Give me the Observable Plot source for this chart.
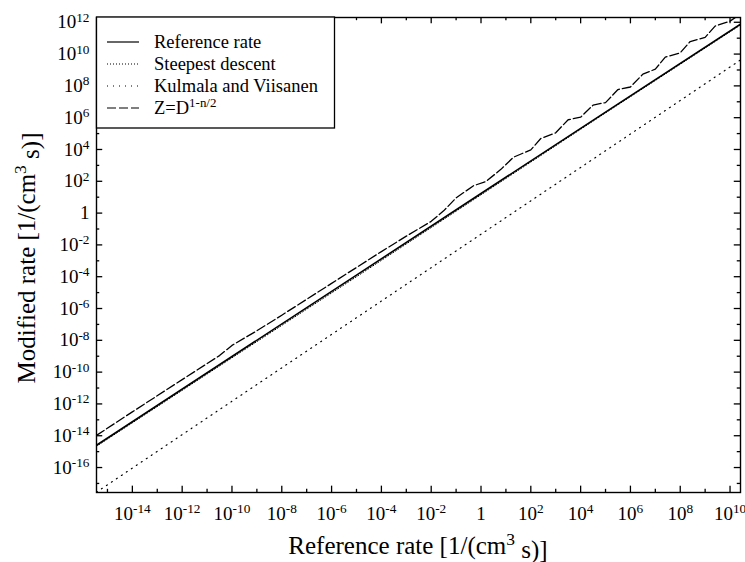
<!DOCTYPE html>
<html><head><meta charset="utf-8">
<script src="https://cdn.jsdelivr.net/npm/d3@7"></script>
<script src="https://cdn.jsdelivr.net/npm/@observablehq/plot@0.6"></script>
<style>
body{margin:0;background:#fff}
svg{font-family:"Liberation Serif","DejaVu Serif",serif}
</style>
</head><body><div id="chart"></div>
<script>
// values as log10 exponents
const refLogX = [-15.44, -10, -5, 0, 5, 10.42];
const refLogY = [-14.6, -9.02, -3.9, 1.23, 6.35, 11.88];

const steepLogX = [-15.44, -10, -5, 0, 5, 10.42];
const steepLogY = [-14.66, -9.1, -4.0, 1.15, 6.3, 11.83];

const kvLogX = [-15.44, -10, -5, 0, 5, 10.42];
const kvLogY = [-17.55, -11.83, -6.58, -1.33, 3.92, 9.63];

const zLogX = [-15.44, -14, -12, -10.5, -10, -9, -8, -6, -4, -3, -2, -1.5, -1, -0.3, 0.2, 0.8, 1.3, 2, 2.4, 3, 3.5, 4, 4.5, 5, 5.5, 6, 6.5, 7, 7.4, 8, 8.4, 9, 9.4, 10, 10.42];
const zLogY = [-13.98, -12.5, -10.47, -8.96, -8.32, -7.4, -6.42, -4.42, -2.42, -1.45, -0.52, 0.14, 0.96, 1.72, 1.99, 2.75, 3.51, 3.98, 4.69, 5.05, 5.87, 6.03, 6.79, 6.95, 7.77, 7.93, 8.74, 9.05, 9.81, 10.08, 10.79, 11.05, 11.76, 12.07, 12.52];

const xTickExp = [-14, -12, -10, -8, -6, -4, -2, 0, 2, 4, 6, 8, 10];
const yTickExp = [-16, -14, -12, -10, -8, -6, -4, -2, 0, 2, 4, 6, 8, 10, 12];
const xMinorExp = [-15, -13, -11, -9, -7, -5, -3, -1, 1, 3, 5, 7, 9];
const yMinorExp = [-17, -15, -13, -11, -9, -7, -5, -3, -1, 1, 3, 5, 7, 9, 11];

const seriesNames = ["Reference rate", "Steepest descent", "Kulmala and Viisanen", "Z=D"];

const xDomainExp = [-15.44, 10.42];
const yDomainExp = [-17.57, 12.3];

const pts = (xs, ys) => xs.map((x, i) => ({x: 10 ** x, y: 10 ** ys[i]}));
const xDom = xDomainExp.map(e => 10 ** e);
const yDom = yDomainExp.map(e => 10 ** e);
const fmt = d => { const e = Math.round(Math.log10(d)); return e === 0 ? "1" : "10^" + e; };

const majX = xTickExp.map(e => 10 ** e), minX = xMinorExp.map(e => 10 ** e);
const majY = yTickExp.map(e => 10 ** e), minY = yMinorExp.map(e => 10 ** e);
// tick lengths expressed in decades of the opposite scale
const tkMajY = 10 ** 0.4, tkMinY = 10 ** 0.2, tkMajX = 10 ** 0.25, tkMinX = 10 ** 0.13;

const chart = Plot.plot({
  width: 745, height: 562,
  marginLeft: 96, marginRight: 5, marginTop: 17, marginBottom: 70,
  style: {fontFamily: "Liberation Serif, serif", fontSize: "19px", background: "#fff", color: "#000"},
  x: {type: "log", domain: xDom, axis: null, label: null},
  y: {type: "log", domain: yDom, axis: null, label: null},
  marks: [
    Plot.frame({stroke: "#000", strokeWidth: 1.4}),
    Plot.axisX({ticks: majX, anchor: "bottom", tickSize: 0, tickPadding: 14, tickFormat: fmt, fontSize: 19, label: null}),
    Plot.axisY({ticks: majY, anchor: "left", tickSize: 0, tickPadding: 7, tickFormat: fmt, fontSize: 19, label: null}),
    // inward ticks on all four sides
    Plot.ruleX(majX, {x: d => d, y1: yDom[0], y2: yDom[0] * tkMajY, strokeWidth: 1.3}),
    Plot.ruleX(minX, {x: d => d, y1: yDom[0], y2: yDom[0] * tkMinY, strokeWidth: 1.3}),
    Plot.ruleX(majX, {x: d => d, y1: yDom[1], y2: yDom[1] / tkMajY, strokeWidth: 1.3}),
    Plot.ruleX(minX, {x: d => d, y1: yDom[1], y2: yDom[1] / tkMinY, strokeWidth: 1.3}),
    Plot.ruleY(majY, {y: d => d, x1: xDom[0], x2: xDom[0] * tkMajX, strokeWidth: 1.3}),
    Plot.ruleY(minY, {y: d => d, x1: xDom[0], x2: xDom[0] * tkMinX, strokeWidth: 1.3}),
    Plot.ruleY(majY, {y: d => d, x1: xDom[1], x2: xDom[1] / tkMajX, strokeWidth: 1.3}),
    Plot.ruleY(minY, {y: d => d, x1: xDom[1], x2: xDom[1] / tkMinX, strokeWidth: 1.3}),
    Plot.line(pts(kvLogX, kvLogY), {x: "x", y: "y", stroke: "#000", strokeWidth: 1.2, strokeDasharray: "1,5", clip: true}),
    Plot.line(pts(steepLogX, steepLogY), {x: "x", y: "y", stroke: "#000", strokeWidth: 1, strokeDasharray: "1,2", clip: true}),
    Plot.line(pts(zLogX, zLogY), {x: "x", y: "y", stroke: "#000", strokeWidth: 1.3, strokeDasharray: "9,3", clip: true}),
    Plot.line(pts(refLogX, refLogY), {x: "x", y: "y", stroke: "#000", strokeWidth: 1.6, clip: true})
  ]
});
document.getElementById("chart").appendChild(chart);

const svg = d3.select(chart);
// superscript tick labels
svg.selectAll("text").each(function() {
  const t = this.textContent;
  if (t.startsWith("10^")) {
    const e = t.slice(3);
    const el = d3.select(this);
    el.text("10");
    el.append("tspan").attr("dy", "-0.5em").attr("font-size", "0.7em").text(e.replace("-", "\u2011"));
  }
});

// axis titles
const xt = svg.append("text").attr("x", 418).attr("y", 554).attr("text-anchor", "middle")
  .attr("font-size", 25).attr("fill", "#000");
xt.append("tspan").text("Reference rate [1/(cm");
xt.append("tspan").attr("dy", "-0.5em").attr("font-size", "0.7em").text("3");
xt.append("tspan").attr("dy", "0.5em").text(" s)]");

const yt = svg.append("text").attr("transform", "translate(35,258) rotate(-90)").attr("text-anchor", "middle")
  .attr("font-size", 25).attr("fill", "#000");
yt.append("tspan").text("Modified rate [1/(cm");
yt.append("tspan").attr("dy", "-0.5em").attr("font-size", "0.7em").text("3");
yt.append("tspan").attr("dy", "0.5em").text(" s)]");

// legend box inside the plot frame
const lg = svg.append("g").attr("text-anchor", "start");
lg.append("rect").attr("x", 96.5).attr("y", 17).attr("width", 238).attr("height", 111)
  .attr("fill", "#fff").attr("stroke", "#000").attr("stroke-width", 1.3);
const dashes = [null, "1,2", "1,5", "9,3"];
const rowsY = [42, 64, 86, 108];
seriesNames.forEach((name, i) => {
  const y = rowsY[i];
  const ln = lg.append("line").attr("x1", 107).attr("x2", 139).attr("y1", y).attr("y2", y)
    .attr("stroke", "#000").attr("stroke-width", 1.2);
  if (dashes[i]) ln.attr("stroke-dasharray", dashes[i]);
  const tx = lg.append("text").attr("x", 154).attr("y", y + 6).attr("text-anchor", "start")
    .attr("font-size", 18.5).attr("fill", "#000").text(name);
  if (i === 3) tx.append("tspan").attr("dy", "-0.55em").attr("font-size", "0.7em").text("1-n/2");
});
</script>
</body></html>
